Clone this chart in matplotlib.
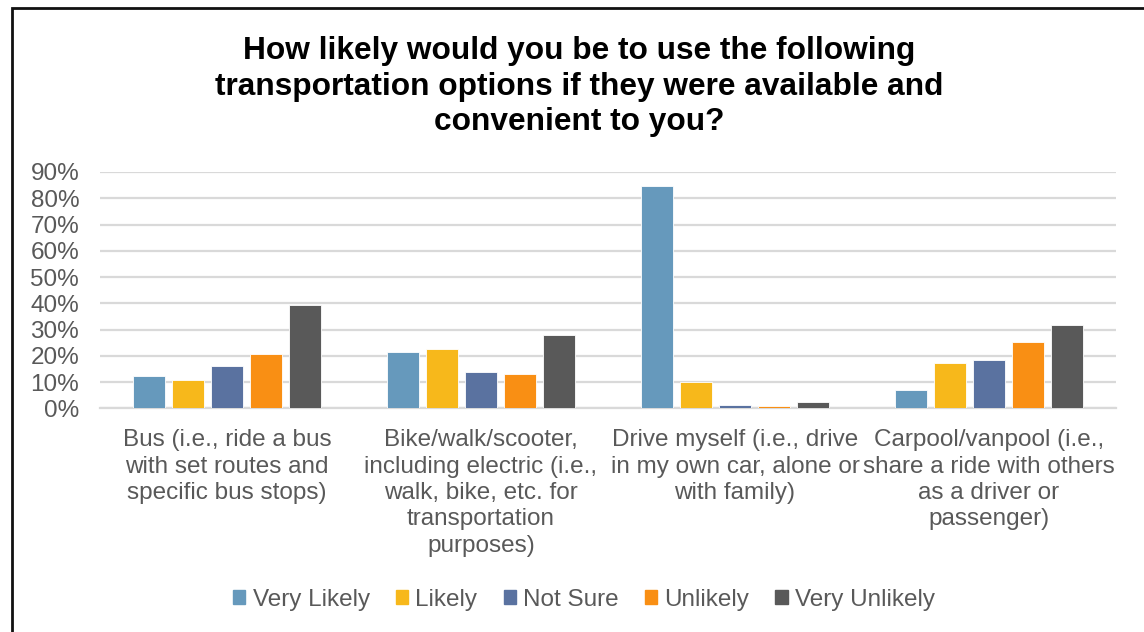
import numpy as np
import matplotlib
matplotlib.use("Agg")
import matplotlib.pyplot as plt
from matplotlib.patches import Rectangle

plt.rcParams['font.family'] = ['Liberation Sans', 'DejaVu Sans']

# --------------------------
# Survey results (share of respondents)
# --------------------------
categories = [
    "Bus (i.e., ride a bus\nwith set routes and\nspecific bus stops)",
    "Bike/walk/scooter,\nincluding electric (i.e.,\nwalk, bike, etc. for\ntransportation\npurposes)",
    "Drive myself (i.e., drive\nin my own car, alone or\nwith family)",
    "Carpool/vanpool (i.e.,\nshare a ride with others\nas a driver or\npassenger)",
]
responses = ["Very Likely", "Likely", "Not Sure", "Unlikely", "Very Unlikely"]

very_likely   = [0.123, 0.216, 0.847, 0.070]
likely        = [0.107, 0.224, 0.101, 0.172]
not_sure      = [0.161, 0.140, 0.011, 0.184]
unlikely      = [0.207, 0.131, 0.010, 0.253]
very_unlikely = [0.393, 0.281, 0.025, 0.317]

series = [very_likely, likely, not_sure, unlikely, very_unlikely]
colors = ["#6699BC", "#F7B81B", "#5A72A0", "#F98F14", "#595959"]

yticks = np.arange(0, 1.0, 0.1)
ytick_labels = [f"{int(round(v*100))}%" for v in yticks]

TEXT = "#595959"
GRID = "#D9D9D9"
FS = 17.5

fig = plt.figure(figsize=(11.44, 6.32), dpi=100)
ax = fig.add_axes([100/1144, 1 - 408.3/632, 1016/1144, 236.3/632])

x = np.arange(len(categories))
pitch = 0.1535
width = 0.124
for i, (vals, col, name) in enumerate(zip(series, colors, responses)):
    ax.bar(x + (i - 2) * pitch, vals, width, color=col, label=name,
           edgecolor="white", linewidth=0.6, zorder=3)

ax.set_xlim(-0.5, 3.5)
ax.set_ylim(0, 0.9)
ax.set_yticks(yticks)
ax.set_yticklabels(ytick_labels)
ax.yaxis.grid(True, color=GRID, linewidth=1.6, zorder=0)
ax.set_axisbelow(True)
for s in ["top", "right", "left"]:
    ax.spines[s].set_visible(False)
ax.spines["bottom"].set_color(GRID)
ax.spines["bottom"].set_linewidth(1.6)

ax.set_xticks(x)
ax.set_xticklabels(categories, linespacing=1.26)
ax.tick_params(axis="x", length=0, pad=15, labelsize=FS, labelcolor=TEXT)
ax.tick_params(axis="y", length=0, pad=15, labelsize=FS, labelcolor=TEXT)

# title
fig.text(579/1144, 1 - 86.5/632,
         "How likely would you be to use the following\n"
         "transportation options if they were available and\n"
         "convenient to you?",
         ha="center", va="center", fontsize=22.8, fontweight="bold",
         color="black", linespacing=1.26)

# legend
handles = [Rectangle((0, 0), 1, 1, color=c) for c in colors]
fig.legend(handles, responses, loc="center", bbox_to_anchor=(584/1144, 1 - 600/632),
           ncol=5, frameon=False, fontsize=FS, labelcolor=TEXT,
           handlelength=0.5, handleheight=0.5, handletextpad=0.3,
           columnspacing=1.08)

# outer frame
fig.patches.append(Rectangle((12/1144, -0.1), 1.2, 1 - 8/632 + 0.1,
                             transform=fig.transFigure, fill=False,
                             edgecolor="#111111", linewidth=2.0))

fig.savefig("out.png", dpi=100)
